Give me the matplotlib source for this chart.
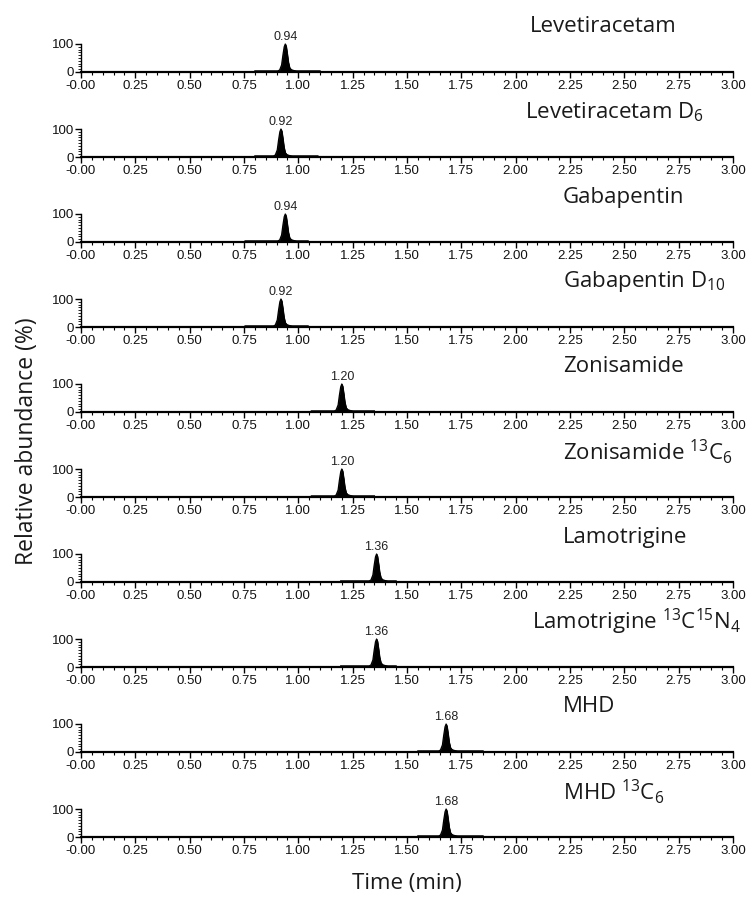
import matplotlib
matplotlib.use("Agg")
import matplotlib.pyplot as plt
from matplotlib.ticker import MultipleLocator

plt.rcParams['mathtext.fontset'] = 'custom'
plt.rcParams['mathtext.rm'] = 'Open Sans'
plt.rcParams['mathtext.it'] = 'Open Sans'

# ---- data ----
titles = ["Levetiracetam", r"Levetiracetam D$_6$", "Gabapentin", r"Gabapentin D$_{10}$",
          "Zonisamide", r"Zonisamide $^{13}$C$_6$", "Lamotrigine",
          r"Lamotrigine $^{13}$C$^{15}$N$_4$", "MHD", r"MHD $^{13}$C$_6$"]
retention = [0.94, 0.92, 0.94, 0.92, 1.20, 1.20, 1.36, 1.36, 1.68, 1.68]
peak_labels = ["0.94", "0.92", "0.94", "0.92", "1.20", "1.20", "1.36", "1.36", "1.68", "1.68"]
window_start = [0.80, 0.80, 0.755, 0.755, 1.06, 1.06, 1.195, 1.195, 1.55, 1.55]
window_end = [1.10, 1.09, 1.045, 1.045, 1.35, 1.35, 1.45, 1.45, 1.85, 1.85]
baseline_level = 4
# peak profile (offset from apex in min, relative abundance %)
profile_offset = [-0.034, -0.026, -0.017, -0.011, -0.005, 0.0, 0.004, 0.009, 0.014, 0.020, 0.028, 0.040, 0.052]
profile_height = [4, 7, 25, 60, 90, 100, 92, 65, 35, 15, 8, 5, 4]
xtick_values = [0.00, 0.25, 0.50, 0.75, 1.00, 1.25, 1.50, 1.75, 2.00, 2.25, 2.50, 2.75, 3.00]
xtick_labels = ["-0.00", "0.25", "0.50", "0.75", "1.00", "1.25", "1.50", "1.75", "2.00",
                "2.25", "2.50", "2.75", "3.00"]
ytick_values = [0, 100]
ytick_labels = ["0", "100"]

# layout
title_left_px = [530, 525, 563, 563, 563, 563, 563, 532, 563, 563]

W, H = 754, 899
fig = plt.figure(figsize=(W / 100, H / 100), dpi=100)

left_px, right_px = 81, 733
zero_px0, top_px0, step = 72, 44, 85

for i in range(len(titles)):
    y0 = zero_px0 + step * i
    y1 = top_px0 + step * i
    ax = fig.add_axes([left_px / W, 1 - y0 / H, (right_px - left_px) / W, (y0 - y1) / H])
    rt = retention[i]
    xs = [window_start[i]] + [rt + o for o in profile_offset] + [window_end[i]]
    ys = [baseline_level] + profile_height + [baseline_level]
    ax.fill_between(xs, 0, ys, color='black', lw=0.6, clip_on=False)
    ax.plot(xs, ys, color='black', lw=0.9, clip_on=False)
    ax.text(rt, 104, peak_labels[i], ha='center', va='bottom', fontsize=9,
            family='Liberation Sans', color='#222222')
    ax.set_xlim(0, 3.0)
    ax.set_ylim(0, 100)
    for s in ['top', 'right']:
        ax.spines[s].set_visible(False)
    ax.spines['bottom'].set_linewidth(1.6)
    ax.spines['left'].set_linewidth(1.0)
    ax.set_xticks(xtick_values)
    ax.set_xticklabels(xtick_labels, family='Liberation Sans', fontsize=9.5, color='#111111')
    ax.set_yticks(ytick_values)
    ax.set_yticklabels(ytick_labels, family='Liberation Sans', fontsize=9.5, color='#111111')
    ax.xaxis.set_minor_locator(MultipleLocator(0.05))
    ax.yaxis.set_minor_locator(MultipleLocator(10))
    ax.tick_params(axis='x', which='major', length=4.5, width=1, pad=1.5)
    ax.tick_params(axis='x', which='minor', length=2.5, width=0.8)
    ax.tick_params(axis='y', which='major', length=4, width=1, pad=1)
    ax.tick_params(axis='y', which='minor', length=2, width=0.6)
    fig.text(title_left_px[i] / W, 1 - (y1 - 17) / H, titles[i], ha='left', va='center',
             fontsize=16, family='Open Sans', color='#1a1a1a')

fig.text(407 / W, 1 - 883 / H, "Time (min)", ha='center', va='center', fontsize=16,
         family='Open Sans', color='#1a1a1a')
fig.text(27 / W, 1 - 441 / H, "Relative abundance (%)", ha='center', va='center',
         fontsize=16.5, family='Open Sans', rotation=90, color='#1a1a1a')

fig.savefig("out.png", dpi=100, facecolor='white')
